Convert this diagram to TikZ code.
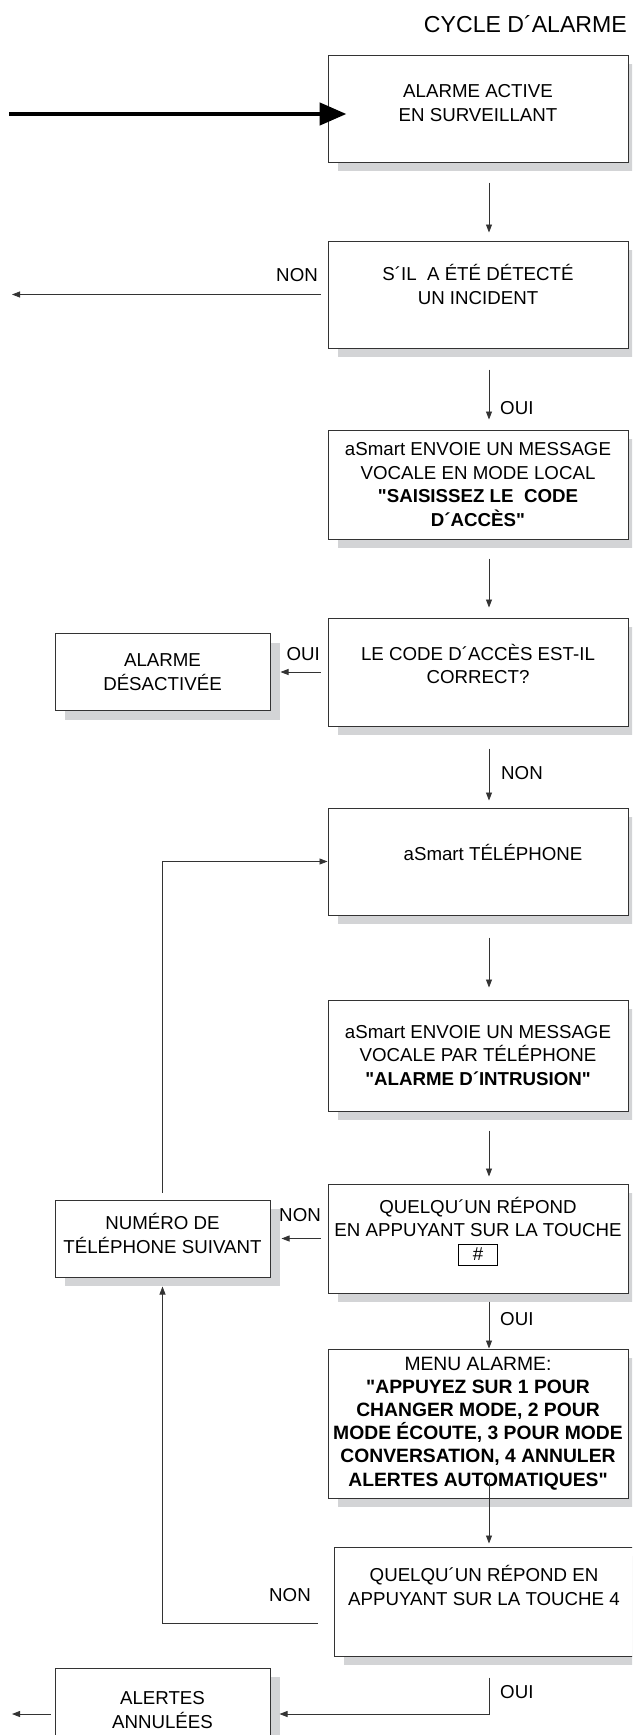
\documentclass[tikz,border=0pt]{standalone}
\usepackage{fontspec}
\newfontfamily\arialfont{Liberation Sans}
\setmainfont{Liberation Sans}
\usepackage{tikz}
\usetikzlibrary{arrows.meta,positioning,shadows,calc}
\definecolor{edge-dark}{HTML}{333333}
\definecolor{shade-grey}{HTML}{D3D4D6}
\setlength{\fboxsep}{2pt}
\setlength{\fboxrule}{0.8pt}

\tikzset{
  box/.style={draw=edge-dark, line width=1pt, fill=white, align=center,
    minimum width=300pt, inner xsep=2pt, inner ysep=4pt,
    font=\arialfont\fontsize{18.7}{23.5}\selectfont,
    drop shadow={shadow xshift=10pt, shadow yshift=-9pt, fill=shade-grey, opacity=1}},
  sidebox/.style={box, minimum width=215pt, minimum height=77pt},
  lift/.style={text depth=#1},
  flow/.style={draw=edge-dark, line width=0.8pt, -{Triangle[length=8pt,width=6pt]}},
  down/.style={flow, shorten <=20pt, shorten >=8pt},
  lbl/.style={inner sep=0pt, font=\arialfont\fontsize{18.7}{23.5}\selectfont},
}

\begin{document}
\begin{tikzpicture}[x=1pt, y=-1pt]
    \useasboundingbox (0,0) rectangle (632,1735);
    \clip (0,0) rectangle (632,1735);
    \node[anchor=base east, inner sep=0pt, font=\arialfont\fontsize{23.1}{27}\selectfont] (title) at (627,32) {CYCLE D´ALARME};

    % main column
    \node[box, minimum height=107pt, lift=11pt] (act) at (478,108.5) {ALARME ACTIVE\\EN SURVEILLANT};
    \node[box, minimum height=107pt, lift=20pt, below=78pt of act] (det) {S´IL \ A ÉTÉ DÉTECTÉ\\UN INCIDENT};
    \node[box, minimum height=109pt, below=81pt of det] (loc) {aSmart ENVOIE UN MESSAGE\\VOCALE EN MODE LOCAL\\\textbf{"SAISISSEZ LE \ CODE}\\\textbf{D´ACCÈS"}};
    \node[box, minimum height=108pt, lift=16pt, below=78pt of loc] (code) {LE CODE D´ACCÈS EST-IL\\CORRECT?};
    \node[box, minimum height=107pt, lift=18pt, below=81pt of code] (tel) {\hspace*{30pt}aSmart TÉLÉPHONE};
    \node[box, minimum height=111pt, below=84pt of tel] (msg) {aSmart ENVOIE UN MESSAGE\\VOCALE PAR TÉLÉPHONE\\\textbf{"ALARME D´INTRUSION"}};
    \node[box, minimum height=109pt, lift=20pt, below=72pt of msg] (rep) {QUELQU´UN RÉPOND\\EN APPUYANT SUR LA TOUCHE\\\fbox{\makebox[34pt]{\rule[-3pt]{0pt}{16pt}\#}}};
    \node[box, minimum height=149pt, lift=4pt, below=55pt of rep, font=\arialfont\fontsize{19.3}{23.2}\selectfont] (menu) {MENU ALARME:\\\textbf{"APPUYEZ SUR 1 POUR}\\\textbf{CHANGER MODE, 2 POUR}\\\textbf{MODE ÉCOUTE, 3 POUR MODE}\\\textbf{CONVERSATION, 4 ANNULER}\\\textbf{ALERTES AUTOMATIQUES"}};
    \node[box, minimum height=109pt, lift=32pt, below=48pt of menu, xshift=6pt] (rep4) {QUELQU´UN RÉPOND EN\\APPUYANT SUR LA TOUCHE 4};

    % side column
    \node[sidebox, left=57pt of code] (off) {ALARME\\DÉSACTIVÉE};
    \node[sidebox, lift=10pt, left=57pt of rep] (next) {NUMÉRO DE\\TÉLÉPHONE SUIVANT};
    \node[sidebox, minimum height=92pt, lift=8pt, below=390pt of next] (canc) {ALERTES\\ANNULÉES};

    % connectors
    \coordinate (entry) at (9,114);
    \coordinate (col) at (489,0);
    \coordinate (edge) at (12,0);
    \draw[black, line width=4.7pt, -{Triangle[length=27pt,width=22pt]}] (entry) -- ($(entry -| act.west)+(19,0)$);
    \draw[down] (act.south -| col) -- (det.north -| col);
    \draw[down, shorten <=21pt, shorten >=10pt] (det.south -| col) -- (loc.north -| col);
    \draw[down, shorten <=19pt, shorten >=10pt] (loc.south -| col) -- (code.north -| col);
    \draw[down, shorten <=22pt, shorten >=7pt] (code.south -| col) -- (tel.north -| col);
    \draw[down, shorten <=22pt, shorten >=12pt] (tel.south -| col) -- (msg.north -| col);
    \draw[down, shorten <=19pt, shorten >=7pt] (msg.south -| col) -- (rep.north -| col);
    \draw[down, shorten <=8pt, shorten >=0pt] (rep.south -| col) -- (menu.north -| col);
    \draw[down, shorten <=-20pt, shorten >=3pt] (menu.south -| col) -- (rep4.north -| col);
    \draw[flow, shorten <=7pt] (det.west) -- (det.west -| edge);
    \draw[flow, shorten <=7pt, shorten >=10pt] (code.west) -- (code.west -| off.east);
    \draw[flow, shorten <=7pt, shorten >=11pt] (rep.west) -- (rep.west -| next.east);
    \draw[flow, shorten <=7pt] (next.north) |- (tel.west);
    \draw[flow, shorten >=9pt] ($(rep4.west)+(-16,21.5)$) -| (next.south);
    \draw[flow, shorten <=21pt, shorten >=9pt] (rep4.south -| col) |- (canc.east);
    \draw[flow, shorten <=4pt] (canc.west) -- (canc.west -| edge);

    % labels
    \node[lbl, anchor=base east] (non1) at (318,281.7) {NON};
    \node[lbl, anchor=base west] (oui1) at (500,414.7) {OUI};
    \node[lbl, anchor=base east] (oui2) at (320,660.7) {OUI};
    \node[lbl, anchor=base west] (non2) at (501,779.7) {NON};
    \node[lbl, anchor=base east] (non3) at (321,1221.7) {NON};
    \node[lbl, anchor=base west] (oui3) at (500,1325.7) {OUI};
    \node[lbl, anchor=base east] (non4) at (311,1601.7) {NON};
    \node[lbl, anchor=base west] (oui4) at (500,1698.7) {OUI};
\end{tikzpicture}
\end{document}
